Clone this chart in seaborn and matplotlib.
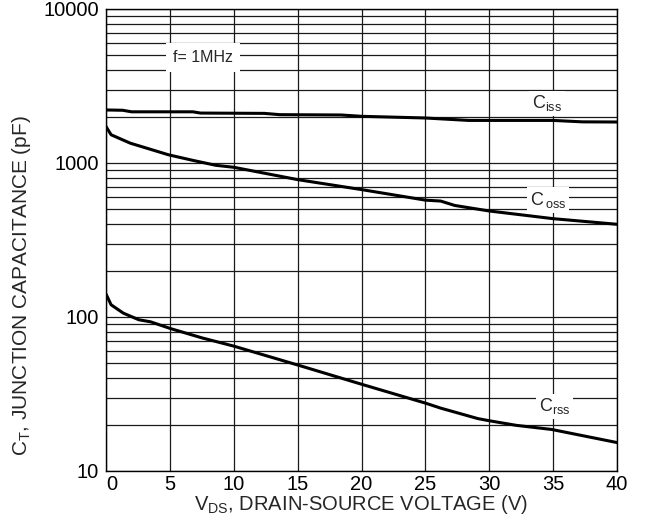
import matplotlib
matplotlib.use("Agg")
import matplotlib.pyplot as plt
import matplotlib.ticker as mticker
import seaborn as sns
import pandas as pd

# ---- data ----
v_ciss = [0, 1.3, 2.0, 6.8, 7.4, 12.4, 13.6, 18.4, 20, 25, 28.4, 35, 37.3, 40]
ciss = [2210, 2200, 2150, 2150, 2110, 2100, 2060, 2050, 2010, 1960, 1890, 1890, 1850, 1846]

v_coss = [0, 0.4, 1.9, 4.9, 6.8, 8.6, 10, 15, 20, 25, 26.2, 27.3, 30, 35, 40]
coss = [1725, 1525, 1345, 1130, 1040, 966, 938, 780, 672, 574, 566, 530, 488, 435, 400]

v_crss = [0, 0.4, 1.35, 2.56, 3.5, 5.07, 7.56, 10, 15, 20, 25, 26.2, 29.1, 30, 32.1, 34.9, 40]
crss = [141, 120, 106, 96, 93, 84, 73, 64.7, 48.8, 36.6, 27.6, 25.6, 21.9, 21.2, 19.8, 18.6, 15.3]

x_ticks = [0, 5, 10, 15, 20, 25, 30, 35, 40]
y_ticks = [10, 100, 1000, 10000]
y_tick_labels = ["10", "100", "1000", "10000"]

series_labels = [r"C$_{\mathrm{iss}}$", r"C$\,_{\mathrm{oss}}$", r"C$_{\mathrm{rss}}$"]
label_pos = [(34.5, 2440), (34.6, 574), (35.1, 26.3)]
note_text = "f= 1MHz"
note_pos = (7.6, 4830)

# ---- style ----
sns.set_theme(style="white")
plt.rcParams["font.family"] = ["Liberation Sans", "DejaVu Sans"]
plt.rcParams["mathtext.fontset"] = "custom"
plt.rcParams["mathtext.rm"] = "Liberation Sans"
plt.rcParams["mathtext.it"] = "Liberation Sans:italic"
plt.rcParams["mathtext.bf"] = "Liberation Sans:bold"

df = pd.concat([
    pd.DataFrame({"V": v_ciss, "C": ciss, "s": "Ciss"}),
    pd.DataFrame({"V": v_coss, "C": coss, "s": "Coss"}),
    pd.DataFrame({"V": v_crss, "C": crss, "s": "Crss"}),
], ignore_index=True)

fig = plt.figure(figsize=(6.45, 5.23), dpi=100)
ax = fig.add_axes([106 / 645, 1 - 471 / 523, 511 / 645, 462 / 523])

sns.lineplot(data=df, x="V", y="C", hue="s", units="s", estimator=None,
             palette={"Ciss": "black", "Coss": "black", "Crss": "black"},
             linewidth=2.2, legend=False, ax=ax, sort=False, zorder=5)

ax.set_yscale("log")
ax.set_xlim(0, 40)
ax.set_ylim(10, 10000)
ax.set_xticks(x_ticks)
ax.set_xticklabels([str(t) for t in x_ticks])
ax.set_yticks(y_ticks)
ax.set_yticklabels(y_tick_labels)
ax.yaxis.set_minor_locator(mticker.LogLocator(base=10, subs=range(2, 10)))
ax.yaxis.set_minor_formatter(mticker.NullFormatter())

ax.grid(True, which="major", axis="both", color="#1a1a1a", linewidth=0.9)
ax.grid(True, which="minor", axis="y", color="#1a1a1a", linewidth=0.9)
ax.tick_params(axis="both", which="both", length=0, labelsize=14.5, colors="black")
ax.tick_params(axis="x", pad=3)
ax.tick_params(axis="y", pad=5)
for sp in ax.spines.values():
    sp.set_color("black")
    sp.set_linewidth(1.0)

xt = ax.get_xticklabels()
xt[0].set_ha("left")

ax.set_xlabel(r"V$_{\mathrm{DS}}$, DRAIN-SOURCE VOLTAGE (V)", fontsize=14.5, labelpad=-0.5)
ax.set_ylabel(r"C$_{\mathrm{T}}$, JUNCTION CAPACITANCE (pF)", fontsize=15)
ax.yaxis.set_label_coords(-0.142, 0.402)

for lab, (xv, yv) in zip(series_labels, label_pos):
    ax.text(xv, yv, lab, fontsize=13, ha="center", va="center", zorder=6,
            bbox=dict(facecolor="white", edgecolor="none", pad=2))

ax.text(note_pos[0], note_pos[1], note_text, fontsize=11.5, ha="center", va="center",
        zorder=6, bbox=dict(facecolor="white", edgecolor="none", pad=5))

fig.savefig("out.png", dpi=100, facecolor="white")
